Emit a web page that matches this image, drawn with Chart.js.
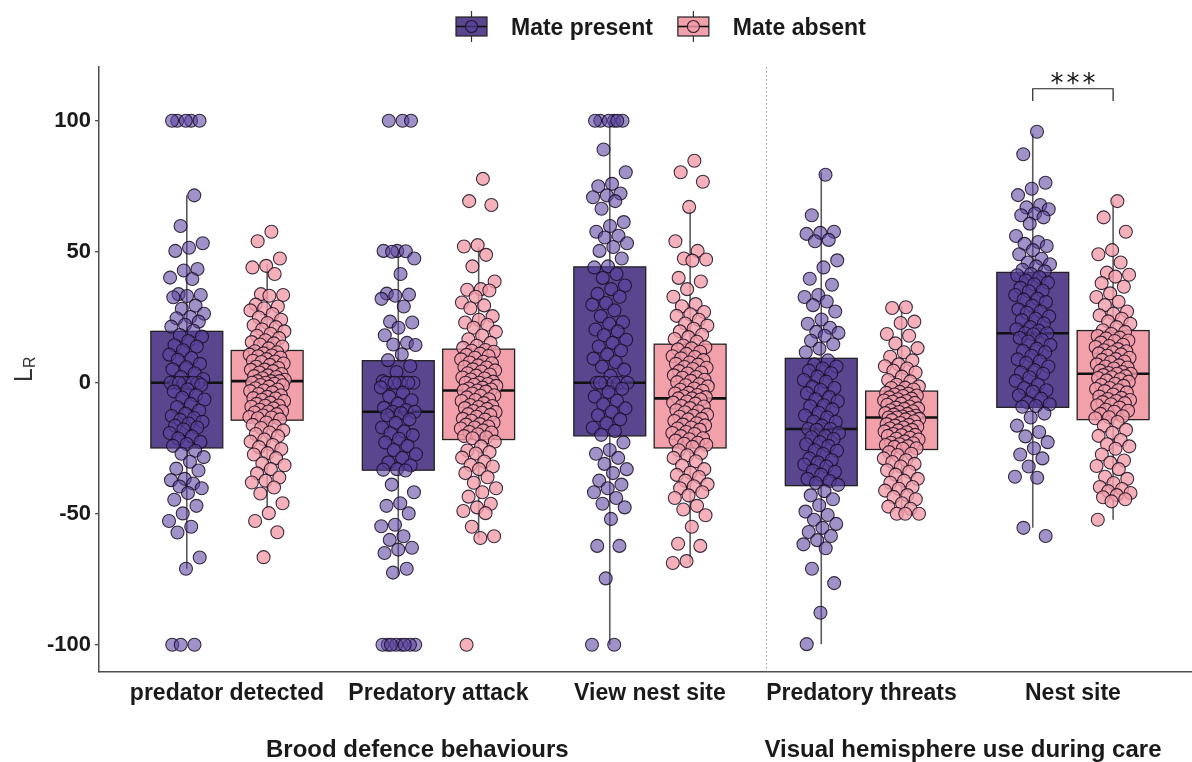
<!DOCTYPE html>
<html>
<head>
<meta charset="utf-8">
<script src="https://cdn.jsdelivr.net/npm/chart.js@4.4.1/dist/chart.umd.min.js"></script>
<style>
  html, body { margin: 0; padding: 0; background: #ffffff; }
  #wrap { width: 1192px; height: 762px; }
</style>
</head>
<body>
<div id="wrap"><canvas id="chart" width="1192" height="762"></canvas></div>
<script>
// ---- data -------------------------------------------------------------
const categories = ['predator detected', 'Predatory attack', 'View nest site', 'Predatory threats', 'Nest site'];
const seriesNames = ['Mate present', 'Mate absent'];
const groupTitles = ['Brood defence behaviours', 'Visual hemisphere use during care'];
const yTicks = [-100, -50, 0, 50, 100];

// box summaries per category: [lower whisker, Q1, median, Q3, upper whisker]
const boxPresent = [
  [-71.0, -24.9, 0.0, 19.6, 71.5],
  [-73.9, -33.4, -11.1, 8.4, 50.3],
  [-100, -20.3, 0.0, 44.2, 100],
  [-99.8, -39.3, -17.7, 9.3, 80.3],
  [-55.4, -9.4, 18.9, 42.1, 95.0]
];
const boxAbsent = [
  [-47.6, -14.3, 0.6, 12.3, 45.2],
  [-59.3, -21.7, -3.0, 12.8, 51.8],
  [-68.8, -24.9, -6.0, 14.7, 66.4],
  [-50.0, -25.5, -13.3, -3.2, 29.1],
  [-52.3, -14.1, 3.4, 19.9, 69.3]
];

// individual laterality indices (L_R)
const present_predatorDetected = [100, 100, 100, 100, 100, 71.5, 59.8, 53.2, 51.5, 50.3, 43.4, 42.8, 40.1, 39.6, 33.8, 33.5, 33.1, 32.6, 29.4, 28.2, 26.3, 25.1, 24.6, 23.3, 22.1, 21.4, 19.8, 18.2, 17.6, 15.9, 14.3, 13.8, 12.4, 10.7, 9.4, 8.8, 7.2, 5.9, 5.1, 3.6, 2.2, 1.4, 0, 0, 0, 0, 0, 0, 0, -0.9, -2.6, -3.3, -4.8, -5.7, -6.4, -8.1, -9.3, -10.6, -11.8, -12.7, -13.5, -14.2, -14.9, -15.6, -16.4, -17.1, -17.8, -19.2, -20.5, -21.3, -22.6, -23.4, -24.1, -26.0, -27.1, -28.4, -30.2, -32.8, -33.5, -36.7, -37.2, -38.5, -39.6, -40.3, -42.1, -44.7, -47.0, -49.9, -52.8, -55.0, -57.2, -66.7, -71.0, -100, -100, -100];
const present_predatoryAttack = [100, 100, 100, 50.3, 50.3, 50.2, 50.0, 47.4, 41.5, 34.0, 33.6, 33.2, 32.0, 29.1, 23.3, 23.0, 21.0, 18.1, 15.2, 14.6, 14.4, 10.8, 8.6, 6.4, 4.1, 0.6, 0, 0, 0, 0, 0, 0, 0, -1.8, -3.8, -5.3, -6.7, -8.0, -9.6, -10.4, -11.1, -11.1, -11.6, -12.4, -14.0, -15.3, -17.1, -18.6, -19.3, -20.0, -21.4, -22.8, -24.1, -25.7, -27.3, -28.7, -30.4, -31.6, -33.0, -33.2, -33.5, -38.9, -41.8, -46.0, -47.0, -49.9, -54.2, -54.8, -58.6, -60.0, -63.0, -63.7, -65.0, -71.0, -72.5, -100, -100, -100, -100, -100, -100, -100, -100];
const present_viewNestSite = [100, 100, 100, 100, 100, 100, 89.0, 80.3, 75.9, 75.0, 72.2, 71.5, 70.8, 69.3, 66.4, 61.3, 59.8, 57.6, 56.1, 55.4, 53.2, 51.8, 50.3, 47.4, 44.4, 44.0, 41.5, 40.0, 37.1, 35.7, 33.9, 32.8, 30.4, 29.8, 27.6, 25.4, 23.1, 22.5, 20.3, 19.6, 18.1, 16.4, 15.2, 13.8, 12.3, 10.8, 9.2, 7.9, 6.1, 5.0, 2.7, 0, 0, 0, 0, 0, 0, -2.3, -3.6, -5.3, -6.9, -8.2, -9.8, -11.1, -12.4, -14.0, -15.5, -17.2, -18.4, -19.9, -22.8, -25.7, -27.1, -28.7, -31.0, -33.0, -34.5, -37.4, -38.9, -40.3, -41.8, -44.0, -46.2, -47.6, -52.0, -62.3, -62.3, -74.7, -100, -100];
const present_predatoryThreats = [79.4, 63.9, 57.6, 57.2, 56.8, 54.5, 54.0, 46.7, 44.0, 39.7, 37.4, 33.5, 32.7, 31.0, 29.6, 27.2, 24.1, 22.5, 21.0, 19.4, 19.0, 17.9, 16.0, 14.7, 13.0, 11.6, 8.5, 7.0, 6.2, 5.4, 4.6, 3.6, 2.3, 1.0, 0.4, -1.6, -2.0, -2.8, -4.0, -5.5, -6.3, -7.1, -8.6, -9.0, -10.2, -11.5, -12.5, -13.3, -14.8, -15.0, -16.4, -17.7, -17.7, -18.0, -19.2, -20.3, -20.8, -21.5, -22.7, -23.5, -24.1, -25.8, -26.0, -27.2, -28.9, -29.5, -30.4, -31.2, -32.0, -33.6, -34.0, -35.1, -36.7, -37.5, -38.3, -39.0, -41.4, -43.0, -44.5, -46.8, -49.2, -50.5, -52.3, -53.9, -55.4, -57.0, -58.5, -60.1, -61.7, -63.2, -71.0, -76.5, -87.8, -99.8];
const present_nestSite = [95.8, 87.2, 76.3, 74.0, 71.6, 67.8, 66.9, 66.2, 64.6, 63.9, 63.1, 60.7, 56.0, 53.7, 53.0, 52.2, 50.6, 49.0, 47.3, 45.9, 45.2, 44.4, 43.1, 42.5, 41.5, 41.0, 40.3, 39.0, 38.2, 37.6, 36.2, 35.1, 34.9, 33.5, 32.1, 31.7, 30.8, 29.4, 28.0, 27.2, 26.7, 25.3, 24.4, 23.9, 22.6, 21.2, 20.4, 19.8, 18.9, 18.9, 18.5, 17.1, 16.3, 15.7, 14.4, 13.0, 12.1, 11.6, 10.3, 8.9, 8.2, 7.5, 6.2, 4.8, 3.9, 3.4, 2.1, 0.7, -0.7, -2.0, -2.9, -3.4, -4.8, -6.1, -7.5, -8.2, -8.9, -9.2, -11.8, -13.3, -16.4, -18.8, -20.5, -22.7, -25.0, -27.4, -28.9, -32.0, -35.9, -36.3, -55.4, -58.5];

const absent_predatorDetected = [57.6, 54.0, 47.4, 44.6, 44.0, 41.5, 33.8, 33.5, 33.2, 29.8, 29.1, 28.4, 27.6, 26.2, 24.9, 24.0, 22.8, 21.9, 21.2, 20.3, 19.6, 18.7, 17.9, 17.0, 16.2, 15.5, 15.0, 14.6, 13.8, 13.1, 12.0, 11.6, 11.2, 10.7, 10.4, 10.1, 9.6, 9.0, 8.4, 8.1, 7.9, 7.3, 6.8, 6.1, 5.6, 5.0, 4.9, 4.4, 3.9, 3.3, 2.8, 2.5, 2.2, 1.7, 1.1, 0.6, 0.6, 0.6, 0, 0, -0.4, -0.9, -1.0, -1.5, -2.1, -2.6, -3.0, -3.2, -3.7, -4.3, -4.8, -5.4, -5.9, -6.0, -6.5, -7.0, -7.6, -8.1, -8.7, -8.8, -9.2, -9.8, -10.3, -10.9, -11.0, -11.4, -12.0, -12.5, -13.1, -13.3, -13.6, -14.0, -15.2, -16.1, -16.5, -17.3, -18.2, -19.0, -19.6, -20.4, -21.7, -22.5, -23.8, -24.6, -25.3, -26.9, -27.4, -28.8, -30.8, -31.5, -33.0, -34.6, -36.2, -37.4, -38.1, -40.0, -42.3, -46.0, -49.8, -52.8, -57.1, -66.6];
const absent_predatoryAttack = [77.8, 69.3, 67.8, 52.5, 52.0, 48.8, 44.4, 38.6, 35.7, 35.5, 35.2, 32.8, 30.6, 29.5, 28.4, 25.4, 24.0, 23.0, 22.1, 21.0, 19.4, 18.0, 16.6, 15.2, 14.1, 13.3, 12.5, 12.2, 11.8, 11.1, 10.6, 10.2, 9.5, 8.9, 8.0, 7.7, 7.4, 6.6, 6.0, 5.8, 5.1, 4.7, 4.3, 3.6, 3.1, 2.7, 2.0, 1.6, 1.2, 0.4, 0, 0, -0.5, -0.8, -1.2, -1.9, -2.2, -2.6, -3.0, -3.0, -3.4, -4.1, -4.8, -5.0, -5.6, -6.3, -6.6, -7.0, -7.8, -8.5, -8.9, -9.3, -9.7, -10.0, -10.8, -11.2, -11.5, -12.0, -12.3, -13.0, -13.8, -14.1, -14.5, -15.2, -15.8, -16.0, -16.7, -17.1, -17.5, -18.2, -18.8, -19.0, -19.7, -20.4, -20.8, -21.2, -22.5, -24.3, -25.9, -26.5, -27.0, -28.6, -30.1, -31.4, -32.0, -33.0, -34.5, -36.1, -38.2, -40.3, -41.8, -43.5, -46.2, -47.6, -49.0, -49.8, -55.0, -58.6, -59.3, -100];
const absent_viewNestSite = [84.7, 80.3, 76.7, 67.1, 54.0, 50.3, 47.4, 47.0, 46.6, 40.0, 38.6, 35.7, 32.8, 30.0, 29.2, 27.0, 26.1, 25.5, 24.0, 22.6, 21.8, 20.6, 19.6, 18.3, 17.4, 16.7, 15.6, 14.2, 13.5, 13.1, 12.7, 11.8, 11.0, 10.1, 9.8, 9.3, 8.6, 7.7, 7.2, 6.9, 6.0, 5.7, 5.2, 4.4, 3.9, 3.5, 2.8, 2.2, 1.9, 1.1, 0.7, 0.2, -0.6, -1.0, -1.4, -2.2, -2.7, -3.1, -3.9, -4.1, -4.7, -5.2, -5.5, -6.0, -6.0, -6.4, -7.2, -7.6, -8.0, -8.9, -9.1, -9.7, -10.5, -10.9, -11.3, -12.2, -12.6, -13.0, -13.8, -14.0, -14.6, -15.5, -16.0, -16.3, -17.1, -17.5, -17.9, -18.8, -19.2, -19.6, -20.4, -21.2, -21.6, -22.1, -22.9, -23.3, -23.7, -24.5, -25.8, -26.9, -27.7, -28.7, -30.0, -31.6, -33.0, -34.4, -35.2, -36.0, -37.4, -38.8, -39.5, -40.3, -41.8, -43.0, -44.0, -47.0, -48.4, -50.6, -55.0, -61.5, -62.3, -68.1, -68.8];
const absent_predatoryThreats = [28.8, 28.5, 23.3, 22.8, 18.6, 17.9, 15.0, 13.2, 11.6, 9.9, 8.5, 7.0, 6.3, 5.4, 4.6, 3.9, 2.3, 1.0, 0.5, -0.8, -1.4, -1.9, -2.0, -2.6, -3.5, -3.9, -4.2, -4.5, -4.9, -5.1, -5.6, -6.1, -6.3, -6.8, -7.0, -7.3, -7.7, -8.0, -8.4, -9.1, -9.5, -9.8, -10.0, -10.5, -10.9, -11.2, -11.6, -11.9, -12.2, -12.6, -12.9, -13.3, -13.3, -13.3, -13.8, -14.0, -14.3, -14.7, -15.4, -15.8, -16.1, -16.4, -16.8, -17.1, -17.5, -18.0, -18.2, -18.6, -18.9, -19.6, -19.9, -20.0, -20.3, -21.0, -21.4, -21.7, -22.4, -22.9, -23.1, -23.5, -23.8, -24.2, -24.5, -25.0, -25.2, -26.5, -27.1, -27.6, -28.9, -29.6, -30.3, -31.0, -32.0, -33.4, -34.0, -35.1, -36.7, -37.4, -38.2, -39.8, -40.5, -41.2, -42.9, -43.6, -44.5, -46.0, -47.3, -48.1, -50.0, -50.0, -50.0];
const absent_nestSite = [69.3, 63.1, 57.6, 50.6, 49.0, 45.9, 42.0, 41.2, 40.5, 38.0, 36.6, 34.1, 32.7, 30.9, 29.6, 27.2, 26.3, 25.7, 24.4, 23.4, 22.5, 21.2, 20.0, 19.4, 18.6, 17.8, 17.2, 16.9, 16.1, 15.9, 15.3, 14.5, 14.0, 13.6, 12.8, 12.4, 12.0, 11.6, 11.2, 10.8, 10.3, 9.5, 9.0, 8.7, 8.1, 7.9, 7.0, 6.6, 6.2, 5.8, 5.4, 4.6, 4.1, 3.7, 3.4, 3.4, 2.9, 2.5, 2.1, 1.8, 1.3, 0.9, 0.4, -0.4, -0.9, -1.2, -2.0, -2.4, -2.9, -3.2, -3.7, -4.5, -5.3, -5.8, -6.2, -6.6, -7.0, -7.4, -7.8, -8.2, -8.6, -9.5, -10.3, -10.7, -11.1, -11.9, -12.8, -13.2, -13.6, -15.0, -16.4, -18.0, -19.1, -20.3, -21.9, -23.5, -24.3, -25.2, -27.4, -29.7, -30.5, -31.8, -33.0, -35.9, -36.7, -38.3, -39.8, -40.6, -41.4, -42.1, -42.9, -43.7, -44.5, -45.3, -52.3];

const presentValues = [present_predatorDetected, present_predatoryAttack, present_viewNestSite, present_predatoryThreats, present_nestSite];
const absentValues = [absent_predatorDetected, absent_predatoryAttack, absent_viewNestSite, absent_predatoryThreats, absent_nestSite];

// significance annotation over "Nest site"
const significance = { category: 4, label: '***', bracketTop: 112.2, bracketFoot: 107.5, labelAt: 116.3 };

// ---- styling ----------------------------------------------------------
const FONT = '"Liberation Sans", Arial, Helvetica, sans-serif';
const TEXT = '#1a1a1a';
const AXIS = '#4d4d4d';
const boxFill = ['#59468f', '#f2a1ab'];
const pointFill = ['rgba(92, 68, 160, 0.58)', 'rgba(243, 156, 168, 0.80)'];
const pointEdge = 'rgba(25, 15, 35, 0.85)';
const dodge = [-0.19, 0.19];    // group offsets within a category
const boxHalf = 0.17;           // half box width, in category units
const jitterHalf = 0.085;       // horizontal jitter half width

// deterministic horizontal spread for overlapping points
function jitter(i) {
  return (((i + 1) * 0.6180339887) % 1 - 0.5) * 2 * jitterHalf;
}
function pointsFor(lists, g) {
  const out = [];
  lists.forEach((vals, c) => vals.forEach((v, i) => out.push({ x: c + dodge[g] + jitter(i), y: v })));
  return out;
}

// box-and-whisker layer drawn beneath the points
const boxLayer = {
  id: 'boxLayer',
  beforeDatasetsDraw(chart) {
    const { ctx, chartArea, scales: { x, y } } = chart;
    ctx.save();
    // divider between the two behaviour groups
    const dx = Math.round(x.getPixelForValue(2.55)) + 0.5;
    ctx.strokeStyle = '#9a9a9a';
    ctx.lineWidth = 1;
    ctx.setLineDash([1.5, 2.5]);
    ctx.beginPath(); ctx.moveTo(dx, chartArea.top); ctx.lineTo(dx, chartArea.bottom); ctx.stroke();
    ctx.setLineDash([]);

    [boxPresent, boxAbsent].forEach((boxes, g) => {
      boxes.forEach((b, c) => {
        const [lo, q1, med, q3, hi] = b;
        const cx = x.getPixelForValue(c + dodge[g]);
        const xl = x.getPixelForValue(c + dodge[g] - boxHalf);
        const xr = x.getPixelForValue(c + dodge[g] + boxHalf);
        ctx.strokeStyle = '#5a5a5a';
        ctx.lineWidth = 1.6;
        ctx.beginPath();
        ctx.moveTo(cx, y.getPixelForValue(hi)); ctx.lineTo(cx, y.getPixelForValue(q3));
        ctx.moveTo(cx, y.getPixelForValue(q1)); ctx.lineTo(cx, y.getPixelForValue(lo));
        ctx.stroke();
        const yt = y.getPixelForValue(q3), yb = y.getPixelForValue(q1);
        ctx.fillStyle = boxFill[g];
        ctx.fillRect(xl, yt, xr - xl, yb - yt);
        ctx.strokeStyle = '#222';
        ctx.lineWidth = 1.3;
        ctx.strokeRect(xl, yt, xr - xl, yb - yt);
        ctx.strokeStyle = '#111';
        ctx.lineWidth = 2.6;
        const ym = y.getPixelForValue(med);
        ctx.beginPath(); ctx.moveTo(xl, ym); ctx.lineTo(xr, ym); ctx.stroke();
      });
    });
    ctx.restore();
  }
};

// legend, axis title, group titles and significance bracket
const decorations = {
  id: 'decorations',
  afterDraw(chart) {
    const { ctx, chartArea, scales: { x, y } } = chart;
    ctx.save();

    // legend keys
    ctx.font = 'bold 23px ' + FONT;
    ctx.textBaseline = 'middle';
    let kx = 456;
    seriesNames.forEach((name, g) => {
      const cxk = kx + 15.5, cyk = 26.5;
      ctx.strokeStyle = '#333'; ctx.lineWidth = 1.2;
      ctx.beginPath(); ctx.moveTo(cxk, 11); ctx.lineTo(cxk, 42); ctx.stroke();
      ctx.fillStyle = boxFill[g];
      ctx.fillRect(kx, 17, 31, 19);
      ctx.strokeStyle = '#222'; ctx.strokeRect(kx, 17, 31, 19);
      ctx.strokeStyle = '#111'; ctx.lineWidth = 1.6;
      ctx.beginPath(); ctx.moveTo(kx, cyk); ctx.lineTo(kx + 31, cyk); ctx.stroke();
      ctx.beginPath(); ctx.arc(cxk, cyk, 6, 0, Math.PI * 2);
      ctx.fillStyle = pointFill[g]; ctx.fill();
      ctx.strokeStyle = pointEdge; ctx.lineWidth = 1.1; ctx.stroke();
      ctx.fillStyle = TEXT;
      ctx.font = 'bold 23px ' + FONT;
      const tx = kx + 55;
      ctx.fillText(name, tx, 29);
      kx = tx + ctx.measureText(name).width + 25;
    });

    // y axis title: L with subscript R
    ctx.translate(32, (chartArea.top + chartArea.bottom) / 2);
    ctx.rotate(-Math.PI / 2);
    ctx.fillStyle = '#333';
    ctx.textBaseline = 'alphabetic';
    ctx.font = '25px ' + FONT;
    const wL = ctx.measureText('L').width;
    ctx.font = '16px ' + FONT;
    const wR = ctx.measureText('R').width;
    const start = -(wL + wR) / 2;
    ctx.font = '25px ' + FONT;
    ctx.fillText('L', start, 0);
    ctx.font = '16px ' + FONT;
    ctx.fillText('R', start + wL, 3);
    ctx.setTransform(1, 0, 0, 1, 0, 0);

    // group titles under the axis labels
    ctx.fillStyle = TEXT;
    ctx.font = 'bold 24px ' + FONT;
    ctx.textAlign = 'center';
    ctx.textBaseline = 'middle';
    ctx.fillText(groupTitles[0], x.getPixelForValue(0.9), 750);
    ctx.fillText(groupTitles[1], x.getPixelForValue(3.48), 750);

    // significance bracket
    const bl = x.getPixelForValue(significance.category + dodge[0]);
    const br = x.getPixelForValue(significance.category + dodge[1]);
    const bt = y.getPixelForValue(significance.bracketTop);
    const bf = y.getPixelForValue(significance.bracketFoot);
    ctx.strokeStyle = '#222'; ctx.lineWidth = 1.2;
    ctx.beginPath(); ctx.moveTo(bl, bf); ctx.lineTo(bl, bt); ctx.lineTo(br, bt); ctx.lineTo(br, bf); ctx.stroke();
    ctx.font = '26px "DejaVu Sans", sans-serif';
    ctx.textBaseline = 'alphabetic';
    const m = ctx.measureText('*');
    const mid = (m.actualBoundingBoxAscent - m.actualBoundingBoxDescent) / 2;
    const sy = y.getPixelForValue(significance.labelAt) + mid;
    const scx = x.getPixelForValue(significance.category);
    ctx.fillStyle = '#111';
    [...significance.label].forEach((s, i, arr) => {
      ctx.fillText(s, scx + (i - (arr.length - 1) / 2) * 16, sy);
    });
    ctx.restore();
  }
};

new Chart(document.getElementById('chart'), {
  type: 'scatter',
  data: {
    datasets: [0, 1].map(g => ({
      label: seriesNames[g],
      data: pointsFor(g === 0 ? presentValues : absentValues, g),
      backgroundColor: pointFill[g],
      borderColor: pointEdge,
      borderWidth: 1.1,
      pointRadius: 6.5,
      pointHoverRadius: 6.5
    }))
  },
  options: {
    responsive: false,
    animation: false,
    devicePixelRatio: 1,
    layout: { autoPadding: false, padding: { left: 43, right: 0, top: 67, bottom: 47 } },
    plugins: { legend: { display: false }, tooltip: { enabled: false } },
    scales: {
      x: {
        type: 'linear',
        min: -0.605,
        max: 4.563,
        afterBuildTicks(scale) { scale.ticks = categories.map((_, i) => ({ value: i })); },
        ticks: {
          callback: v => categories[v] ?? '',
          font: { family: FONT, size: 23, weight: 'bold' },
          color: TEXT,
          padding: 8,
          maxRotation: 0,
          autoSkip: false
        },
        grid: { display: false, drawTicks: false },
        border: { display: true, color: AXIS, width: 1.5 }
      },
      y: {
        min: -110.2,
        max: 120.5,
        afterBuildTicks(scale) { scale.ticks = yTicks.map(v => ({ value: v })); },
        ticks: {
          callback: v => String(v),
          font: { family: FONT, size: 22, weight: 'bold' },
          color: TEXT,
          padding: 4
        },
        grid: { display: true, drawOnChartArea: false, drawTicks: true, tickLength: 4, color: AXIS, lineWidth: 1.3 },
        border: { display: true, color: AXIS, width: 1.5 }
      }
    }
  },
  plugins: [boxLayer, decorations]
});
</script>
</body>
</html>
